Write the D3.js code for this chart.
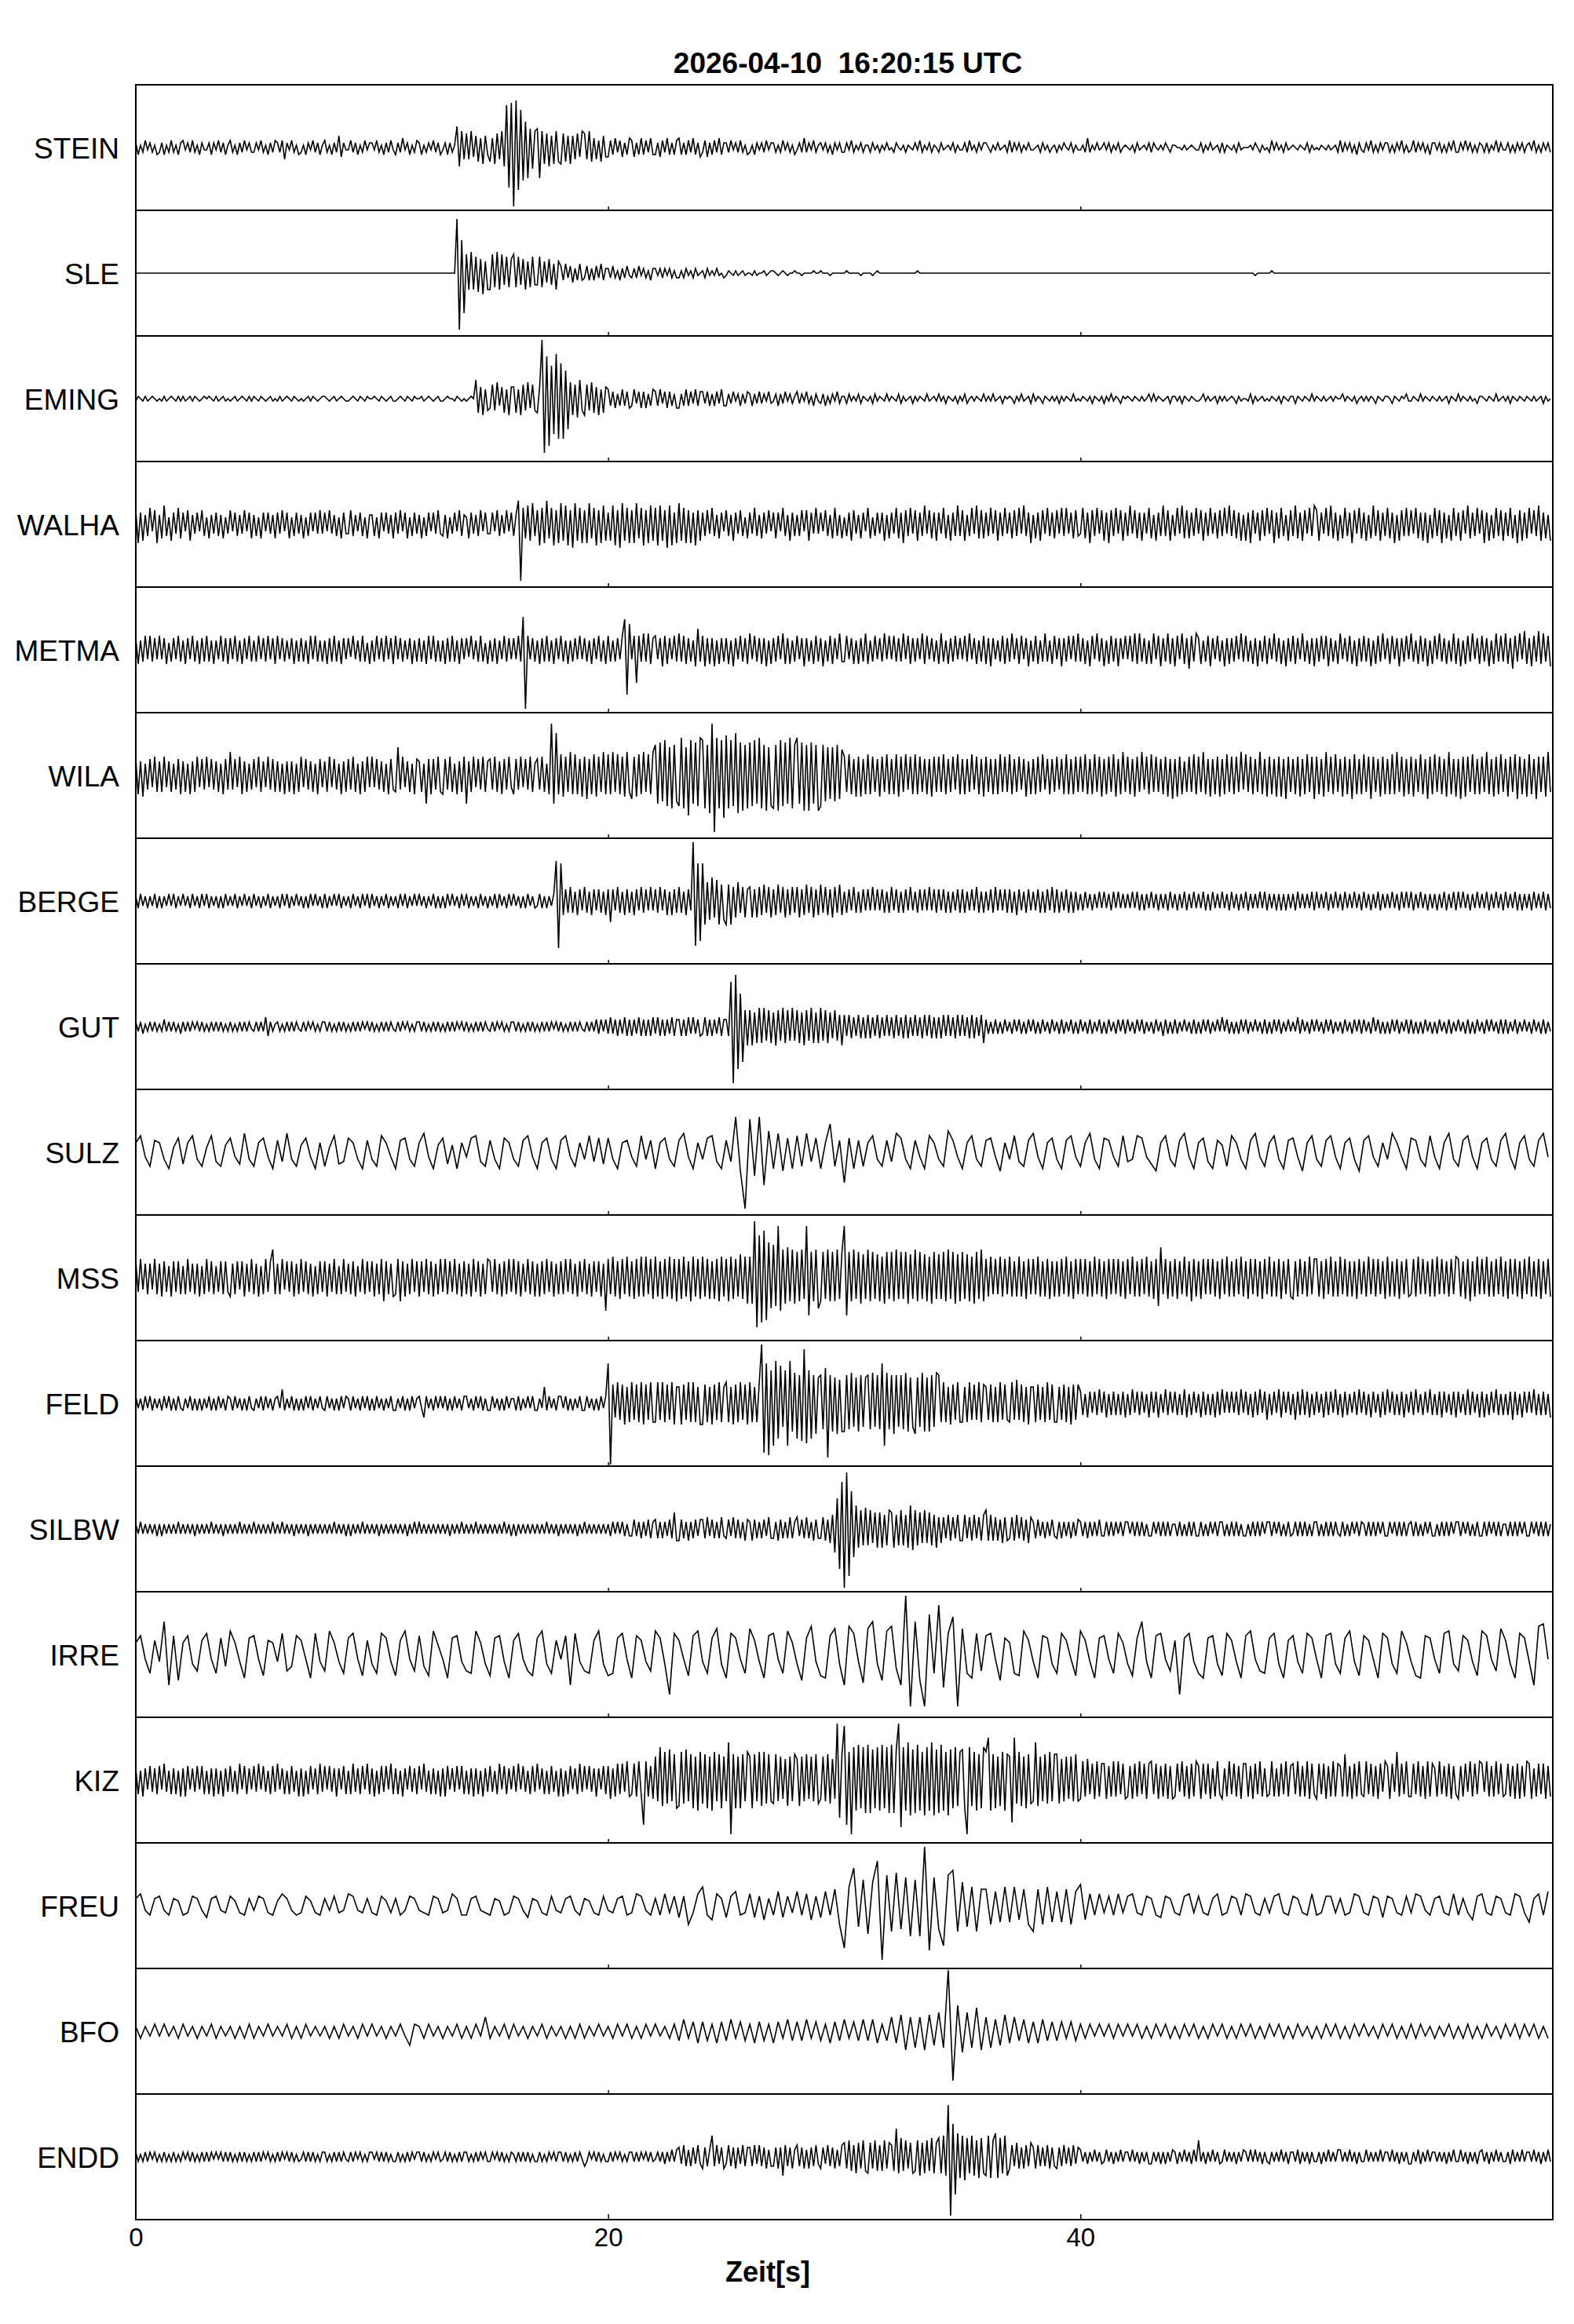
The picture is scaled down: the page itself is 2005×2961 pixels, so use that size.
<!DOCTYPE html>
<html>
<head>
<meta charset="utf-8">
<script src="https://cdn.jsdelivr.net/npm/d3@7"></script>
<style>
  body { margin: 0; background: #fff; }
  text { font-family: "Liberation Sans", Arial, sans-serif; fill: #000; }
</style>
</head>
<body>
<svg id="chart" width="2005" height="2961"></svg>
<script>
// seismogram section, 17 stations, 0..60 s
const title = "2026-04-10  16:20:15 UTC";
const xLabel = "Zeit[s]";
const xTicks = [0, 20, 40];

const stations = ["STEIN", "SLE", "EMING", "WALHA", "METMA", "WILA", "BERGE", "GUT",
    "SULZ", "MSS", "FELD", "SILBW", "IRRE", "KIZ", "FREU", "BFO", "ENDD"];

// seconds between samples of each trace
const steps = [0.1, 0.1, 0.1, 0.1, 0.1, 0.1, 0.1, 0.1, 0.2, 0.1, 0.1, 0.1, 0.2, 0.1, 0.2, 0.2, 0.1];

// samples, one char each: 0 = zero, A..Z = +1..+26, a..z = -1..-26
// (one space-separated group = one second)
const waves = [
    // STEIN
    "BcAbCaBbAc bBcAbCbAcB CaBbCbAcBa aBcBaCbBcA CbAcBbCaBb bBaCbAcBbC BbCeBaCbAc bAcBaCbBcA CbAcBbEdBa aCbBcAbCaB " +
    "BaCbAcBbCa cBbDaBcAbC BcAbBaCbBc aBcBbAIhGe FeGdEfDgEc fDgFeGhRqS yTrPnKmHiG HmGgFhEgGf gFfEgEeFdG FeGfDeCfEd " +
    "dCcDbCdBcD CdBcDcCbDc cBdCbDcBcC DcBcCbDcBd bCdBcCbDcB BbCaBbCbAc bAcBaBbCaB BbAbCaBbAc aBbDbBaCbA BaBbAcBaBb " +
    "bBaCbAaBbA AbBaAbAaBa 0bB0aAbA0a BaCbAaBbA0 bBa0AaBbAa aBbCaAbBaB B0bAaBa0Ab CbBaBbAaBa a0AbBaAb0A bAaB0aBbAa " +
    "aAbDbAaBa0 BaBbAaBb0A 0aAbBa0AaB bB0aAaB0bA A00aAa0A0a aBbAaBa0Ab BbA0aAbBa0 00AaB0bAa0 bCaBaAbBa0 A0aA0aBbAa " +
    "0aA0aAa0Ab CbBaBbAcBa bBaCbAbBaB BbAbBaCbAb aCbBaBbAcB BaBbAbBaCb bBaCaBbAbB AbBbAaCbBa aBbAbBaBbA BaCbAbBaBb",
    // SLE
    "0000000000 0000000000 0000000000 0000000000 0000000000 0000000000 0000000000 0000000000 0000000000 0000000000 " +
    "0000000000 0000000000 0000000000 000000WxNq HgIgGhFiEg gHfIgHeGfF HfGeFgEfGe eGfEdFeDgE CcDbCdBcDc bCcBcCbDcB " +
    "BbCbAcBbCa bBbCaBbAcB BaBbBaBbAb bAbBaAbBa0 AbBaAaBa0b aA0aAa0Aa0 0aAa00Aa0A A0a0A0a00A 00a0000A00 A000a00000 " +
    "0A00000a00 00a0A00000 0000000000 0A00000000 0000000000 0000000000 0000000000 0000000000 0000000000 0000000000 " +
    "0000000000 0000000000 0000000000 0000000000 0000000000 0000000000 0000000000 0000a00000 0A00000000 0000000000 " +
    "0000000000 0000000000 0000000000 0000000000 0000000000 0000000000 0000000000 0000000000 0000000000 0000000000",
    // EMING
    "aA0aAa0A0a 0aAa0A0aAa Aa0AaA0a0A 0A0aAa0Aa0 a0Aa0A0aAa A0aA0a0Aa0 aAa0A0aA0a 0a0AaA0a0A A0a0Aa0A0a a0A0aA0aA0 " +
    "0A0aA0a0Aa a0A0aA0aA0 0Aa0A0a0Aa a0A00aA0a0 a0A0HfEgDe dFeGcEfDgE EfDgFeGdFe fEYwRtNoSq OqLmGgFhHe gFeGfEgDfE " +
    "DcCdBcDcCd cDbCdCdBcD CcDbCdCcBd dBcDcCbDcC CbCcBcCbDc cBbCaBcBbC BcBbCbBaCb aBcBbCaBbA CbBaCbAcBa bBcAbBaCbA " +
    "AbBaAaBbA0 aAbBaA0aBa A0aBbAa0Ab AaA0aBa0Aa BaAbA0aAbA aBb0AaA0aB aAaBa0AbA0 A0bAaBa0Ab BaA0bA0aAa AbAaA0aBa0 " +
    "aA0aAbA0aA bAaBaA0bA0 A0aA0aAa0B aBaA0a0AbA AaAbA0aA0a a0BaAa0AbA aAa0A0bAa0 0aBbAa0Aa0 aA0aAbA0aA AbA0aA0aBa " +
    "A0aAa0AaA0 0BaA0aAb0A aAaA0bA0aA A0bA0aA0Ba aA0aBaA0aA 0aAa0AbA0a BaA0aAa0bA A0aA0aBa0A aAbA0aA0aA 0aAa0AbAa0",
    // WALHA
    "FhEgDeGcFh DfHeCgEdGf EcFgDdEcFe CfDdEeDfCd FcEeDdFcEf DeCfEcEdDf EdFcEfCeEd DfCeEcEdFd EcFdDeCfEd dFeDcEeCfD " +
    "DeCfEcEdDf EdFcEfCeEd DfCeEcEdFd eDfCdEcFeD CfEdDeFcEd dEcFeDdFcE eDJxGfHgIe FiGhJfGiFh IgHiFjIgGh FhIfGiFhHg " +
    "EgHiFjIgGh FhIfGiFhHg GiHgFjHiEh IgGhFhEiFg EeFdGeDfEc FeDgEdFeCf EdGeDfEdFc EfEcGeDgEe DeFcFgEdGd EcFeDfGeDf " +
    "CeEgFdDfEc GfCeEdEgDf EdGfEhFeGd FgEeHdFfEg EdGfDgEeHe FgDeGdHfFf EeGdFgEeGd EfFeGdHeEh DfEgFdGeEf FdGeGdEfFe " +
    "dGfEhFeGdF gEhFeGdFgE eHdFfEgEdG fDgEeHeFgD eGdHfFfEeG dFgEeGdEfF eGdHeFfEgD gEhFdEgFeG dFhEfGeDgF eHfEgFdGeH " +
    "FgEdGeHfEg DfGeEhFdGf EgDfHeFgEe GfEhDgFeGe FdGfEgEhDf GeFhEfDgGe EgFdHfEeGd FhEgDfGeFg EeGfDhFgEf GdFeHgEfDg",
    // METMA
    "EfDeFdFeEd FdEfCeEdFe DfEdFeDfEe FeDfDdFeEf EdFeDfEdFe DeFdEeFdEf FdEeDdEfDe EeDfFdFeDe DfEeFeDfEd EcFdDeFeCf " +
    "DeFdEeFdEf FdEeDdEfDe EeDfFdFeDe DfEeFeDfEd EcFdDeFeCf DeEfDdFeEd EdFeNyFdEe DfEeFeDfEd FeDfDeEdFd EeDfEdFeDf " +
    "FeDeEdFMsK dFnFeGeGfE FdEgFfEdFe GeFfEeDgIe FgEfEgDfEe EfDgEdFeEf GdFeEfEgDf EeFdGfEfDe FdEgEeDfFe EgDeFfEdGe " +
    "eFdEfDfEeG fDeFdEeGdF dFeEeGdFfE eEdGfFdEeD fGeDfEeFdE dFeGdEfDeF fEgEdDeFfE eGdEfFdEgD eFfDeGeDfF dEgEeFdFeG " +
    "eEfDgFdGeE gDfFeEgEdF dFeGfGeEfD fGdFgEeGfE gFdGfEhFeG EfDeFgEdFe DgEfEeFdGe FeDfEgDeFf EdGeEfDgEe FfEdGeDfEg " +
    "EeFdFgEeDf GdEeFfDgEe FeEgDfFeGd EfFdEgEeFd GeDfFeEgDf FdGeEfDeGf EgDfFeGdEf FeEgDfGeFe GfEhFeGdHf EgFeHfGeFg",
    // WILA
    "GhFiEfGeHg FgHeFgEfGh FgEhFgHeGf HeGfFgEhGf JfGeHhFgEf GeHgFeHfGg FgEhFgFhEg HeGfFgEhGe FgHeGfEhFg GfHgEhFgHe " +
    "HeGfFgEhGf gLfHeFgEhG FgElGhGfHg hGfHgEhFgH lFgHeGfHgF GfHgFhGfHe hGfHeGfHgE GfHgEhVlRh IiHgJhIhGi HjGhIiHgJh " +
    "IhJgIhHiJg jHiIhJgIhJ MlNkOmLnMk mPnLqOlNmP OnMpVxPnOr QnOmRpNoMn NmOlPnMoLm nMoOmNlPnM PlNoMoNlMo mMkLjLkMjK " +
    "HgIhGiHiGh IhHgGiHgIh GhIiHgIfHh IhHgGhGiHg HgIhGgHfIh GhGgIfHhGi HgGhGhIgHg IhGgHfGiFh GhHgIfGhGg HfGhIhGhHg " +
    "HgIhGhIgHi GhHgIiGhJg HhGiHgJfHh IgHgGhHiGj GiHhFgHgIh HgJhGiGhHi GhIgHhHgJf IgHhGgJhGi HhGiHiGjHg GhHiGhIgHj " +
    "HhGiJgHhIg GiHhGjIhGh IgHjHgGiHh GhIhJgHiGh HiGgIhGjHh IgHhGiJhGi GjHiHgIhGh HgJhGiHhIg GiHgIjHhGi IhGjHgHiJg",
    // BERGE
    "BcCbBcBbCc BcBbCbCcBb CbBcCbBcCb CcBbBcBcCb BbCcBbCbBc CbBcBbCcBb BcCbCcBbCb BcBcCbCbBc CcBbCbCcBb BcCbBcCbCc " +
    "CbBcBbCcBb BcCbCcBbCb CbBcBbCcBc BcCbCbBcCb CcBbBcCbBc BbCcCbBcCb CbBcBcCbBc bCcBcBbCQt PfEeFeDfEd FeDfEdEeDf " +
    "EiEdFeDfEe DfEdFeEdFd EeFdEfDfEe FeDfEdYsPq PjHhJgIjGh jGjFgHeFgE FgEgFfGeFg EfGeFgEfFe FgEfGeFgEf GeFfEgFeGf " +
    "DeEdFeDeEd EdFdEdEeDe FdEeDeEdFd DeEdEdFdEe EdEeDeDdEe EeDdEdFeDe DdEeFdEdEe EeDfEdDeEd DdEeDeEdFe EeDdEeDeDd " +
    "CdDcCdCcDc DcCdDcDcCc CcDcDdCdCc DcCdCcCdDc CdCcDdCcDc CcDdCdDcCc DcCdDcCdCc DdCcCcDcDd CcCdCdCdCc CdDcCcCcDd " +
    "DcCcDdCcDc CdDcCcDcCd DcCdCcDdCc CcDcCdDcDc DdCcDcCdCc CdCcDdCcDd DcDcCdCcDc CcDdCcDcCd DcCcDdCdCc CdDcCcDdCc",
    // GUT
    "BbBcAbBbBb AbCbBbBbAc BbBbBaBbBb AbBbBbBbAb BbAbBbBbBa bBbBbDdBbA BbAbBbBbBa bBbBaBbAbB BbBbAbBbBb AbBbBbBaBb " +
    "BbAbBbBbBa bBbBaBbAbB BbBbAbBbBb AbBbBbBaBb BbAbBbBbBa bBbBaBbAbB BbBbAbBbBb AbBbBbBaBb BbAbBbBbBa bBbBbCcCbC " +
    "cDcCdCcDdC dCcDdCdCdD cDdCdCcDdC CdCdDcDcCd cDdCdCcDdC CdSxVrNoGh GhFgHgHfGg FhGfHgGfHf GgFhGfHgFg HfGgFeGfEh " +
    "EdEeDdEeDe EeDdEeDdEd DeEdDeEeDd EdDeEdEeDe DeEdEdDeEd EdDeEeDdEg CcBcCcBcCb BcCbCcBcCb CcBcCbBcCb BcCcBbCcBc " +
    "CbBcCcBbCc BcCbBcCbCc CbBcCbCcBb BcCbBdCcBc CcBbCbBcCc BcCbCcBbCb DbCcBcBcCb CcBbCbBcCc BcCbCcBbCb BbDcCbBcCb " +
    "CbBcCbCcBb BcCbBcCbCc CbBcDbCcBc BcCbCcBbCc CcBcBcCbBc BcCbBcCcBb CbBcCcBcCb BcCbCbBcCc CcBbCcBbCb BcCbBcCcBb",
    // SULZ
    "DGbfE DcgBF eDGcf BGdfC FbeHc fDFbg EdHcf CFbgD fBGed FDcgE " +
    "cfGDb gEFcf DHbgC FeCgD bFGdf EcgFD cfEGb gDFcg EGbfD cGdFe " +
    "FcgDE bfGcE gDFcf EHbgD cFGdg EdOhx NjOnI gHhFg GfHdF gDLfE " +
    "mFgEf DGcfE dHFcg EbgGD cfIEb gDGcf EFbhD cGdfE HbgDF cgEGb " +
    "fDHcg FEbfG dcGFb ehDGc fEHbg DFdgE CfGDc gEHbf DGcgE FbhDG " +
    "cfEGb gDFch EGbfD cHDbg FEcfG bgDHc fEGbg DFcfE HbgDG cfEHb",
    // MSS
    "GfHeFgFeHg FhGfEhGfGg EgHfFgFhEg HfGgEfGgGf hFgGeGhFfH gFhEgHfGLg FgHeGfGhFg HfGgFhEgGf GhFfHgEgHf FgGhEfHgGf " +
    "GhFgHjGgFh gHjGhFgHfG hGfHgGhFgH fHgGfHgFhG gFhHfGhFgH GfHgFhGgHf HgGhFfHgGh FhGgHfGhFg GgHfHgFhGf HgFhGfGhFn " +
    "HgIhGiHgIh GiHhIhIgHi IhGiHhIiHj HiIhGjIhHi IhHiGiHjIh HjIiHhJiIk IkXuRsTrOm NlVnLkMjLk KjLiVpKjLm jKiLjKjLiK " +
    "VpKjLiKkJi LjKiJjIkKi KjLiKiKkJi LjKiJjIkKi JiKjLiKkJj KiJjIkKiLj HhIgHgIhHg IhGhIhGiHg HgIhGhHiGh GhHgIhGiHg " +
    "HgHhGhIgHh GiHgHgHhGi HgIhGhHgIh GiHlMgHiGh HiGgIhGjHh GiHgHgHhGi HgIhGhHgIh GiHgHhGiHg IhGhHiGgHh iGhHgGhIgH " +
    "HhGiHgIhGh IgHhGhGiHg GhIgHhHgGi IhGhHiGgHh gHhIgHgGhH hIgHgGhHgI HhGiHjGhIg HgIhGhHgIh GiHgHhGiHg IhGhHiGgHh",
    // FELD
    "CbBcCbCcBb BcCbCcBcCb cBbCcBcBcB bCcBcCbBcC BcCbBcBcCb cBbCcCbBcB CbFcBbCcBc BcCbCcBbCb cCbBcBcCbC BcCbBcCbCc " +
    "BcCbBcBbCc cBbCcBcCbB CbfCbBcCbC bCcBcCbBcC CbBcCbCcBc cCbBcBcCbB BcCcBbCbCc cBbGcCbBcC CbCcBcBbCc cCbBcBcCbC " +
    "QzHfIgHiGh IgHhIiHgIh hIgIhHgIiG GiHgIhIhGi iHhGiHgIhG IhGiHhIgHi IhGhIYuQvN rRoPjNrRlM oLpWqNoLmK LkOwLlKmJl " +
    "lLkMjKlLjK LkMjLkQrMk LmLjLkMlKj mKjMlKlLjM LhIhGiHgIh hGhIgHgIhH GgHhGhIgHg hIgJgHhGiG GhHgGhIgHh hGgHhGiHgH " +
    "EeDfEdEeFd EfDeEeDeEf DeFdEeEdDf EdEfDdFeEd EeDeFfDeEd DfEeDeDfEe FdEdEdEeFd EeDfEeFdEg DeEdFfEdEe DgEeFeEfDe " +
    "EdDfEeEdFe DfEeDdEeFd EeDfEdDfEe FdEeDeEfDd EeFdDeEdFe DeEfEdDeEf EdDeFeEdDf EfDeEdFeDe DeEgEeDfEd EdFeDeEeDf",
    // SILBW
    "BbCbBbBbBc BcBbBbBbCb BbBbBcBbBb BbCbBbBcBb BbBbCbBbBb CbBbBbBbCb BbCbBbBcBb BbBcBbBbBb BbBbCbBbBc BcBbBbCbBb " +
    "BbBcBbBbBb BbBbBcBbCb CbBbBbBbBb BbBcBbBbCb BbBbCbBbBb BbBbBbCbBc BcBbBbBbBb BbBbCbBbBc BbBbBbBcBb CbBbBbBbBb " +
    "BcCbCbCcBc cDcCdCcDdC DdCdCcDdGe eDdCeCdDcD DdEcDdCdEc dDcEdDdCeD CeDdCdDcEd dCeDdCdEdC EcDdEdCeDd dEeDfFjMqT " +
    "yXtPlJhHgI gHfGhGhFgH GhFgHgFhJi HgGfHfGgFh EfEdFeEdFe eFdEeFdEeF HeFeEeDfEe dEeFdEeDfE CdDcCdCcDc dCdCcCdCcD " +
    "CcCdCcCcDc cCcCcCbCcC CbCcCcCcBc cCbCcCcCcB BcCcBcCcCc cCcBcCbCcC CcBcCcCcBc cBcCcCcCbC CcCbCcBcCc bCcCcCcBcC " +
    "CcBcCcCcCb cCcBcCbCcC BcCcCcCbCc cCbCcCcCcB CcCcBcCbCc cBcCcCcCbC CcCbCcBcCc cCcCbCcCcB BcCcCcCbCc cCbCcCcCcB",
    // IRRE
    "EHbhF cNmHk EHdgF IbhGe JEcjG HbiFE cIgeH FbjIc gJEch GIbiF " +
    "dhIGc iFJbg HeiJD bjGHc ghJEd iGHcj FIbgi GJdhF bHmIc ghFJd " +
    "ihGIb jHFcg JGdqI FbiHJ chGKd jIGbh KFcjH IbhJE dkGLc ijHKd " +
    "mLIcl KNdkJ LfmYv NkvQh UnIPv KhjIg HIbkG EhiJF cjHGd hIFbi " +
    "JFcjG HbhIE diGNc jHIbg FqGIc hjGHd iIFcj HJbgh GIdjF HchIG " +
    "bjHId hGJci HFbjI GdhJE cijHG bhIJd gHFci JHbgK FdjIG cmLMb",
    // KIZ
    "EfDgEdFeEf FdGeDfEfDg EgFdEeFdFf DfEgEfDgEe FeDfGdFfEd FeGdFeDfFe GdEfDfFeDg EgDfFdEfGe FdFeEgEdFf DfGeEfFdGf " +
    "EgDfFeFdGf EfDgEdFeEf FdGeDfEfDg EgFdEeFdFf DfEgEfDgEe FeDfGdFfEd FeGdFeDfFe GdEfDfFeDg EgDfFdEfGe FdFeEgEdFf " +
    "FhEgGfGeHg fGgHfsHgFh JiNkLjMiKl kLjMiKlJmL jKlJmLiKlJ iPwKlJlKiL JlKiLkLjKi jKiJhIkJiK IkJiKhJiKj hJiKjIhXpK " +
    "WsLwNmOlNn OnMlNmOlNn OnMXtNmPoM nOmLoNmPoM nOmLoMlNkL MlwNkLmKlN LRmKlJkLmK JrRjLkJlKj iPkJiKjLiK KjIiJhJiKi " +
    "hHgIfGhHgG GhFgHgHfGh gFhGgHfGhG HfGhFgGhFh gGeHgFhGgH FhGfGhEgHf hEgHfGgFhG GgFhGfHgEg fHgEgGfHgF GfHgFgHhGf " +
    "hGfGhFgHgG FgKgFhGgHf gHfGgFhGeH FhGeLgGfHg gGfHgFhHgG EgHfFgGhFf hFgGeHgGfH GeHgFgHfGg fGgFhGhFgH GhEgGfGhFg",
    // FREU
    "CEbdC DbdCB dcDCb eCDbc DBcdC bDCcd BECbd cDBcd CbDcb EDbcC " +
    "cdDBc CdbDC bcdDC cbECd dCDbc dCBdc DCbeC BcdDb cCDbd CBcdD " +
    "bcCDd cEDbd CdEcD eDhcE HdfEC eDFdc EeDfC dFeDc FdEfD eFdGh " +
    "rHPiK lJSwM kNjLm KmYsL jqMOk JiHkG GhFgH gHfGh kGhHg FgGhF " +
    "IfEdE cDdEc DEcdD CdeDC cdDEc DcdCE dcDCd EDcdC cDEcd DCcdE " +
    "dcDDc CdcED cdDCe DCcdD cEDbd CDcdE dCcfD EcdDC cdEDc gCEdF",
    // BFO
    "BcBbC bCbBc CbBcB bCcBb BcBcC cBbCb BbCcB cCbBb BcBcC bBcCb " +
    "CbBcB bCbfC BcCbB cBbCc BcCbF cBbCc CbBcB bCcBb BcBcC cBbCb " +
    "BcCbC cBcCb CbBcC dEcDe DdCeD dEcDd CeDdC eDcEd DdEcD dCeDd " +
    "EcDdE dEeCd FeGhF gFhGf HgZuK iHgJh FgEfG eFdEe DeEdD dDcDd " +
    "CcCbC bCcCb CbCcB cCbCc BcCbC cBcCb CcBcC bCcBc CbCcB cCbBc " +
    "BcCbC cBcCb CbBcC bCcBc CcCbB cBbCc BcCcB cCbBc CbCcC bCcBc",
    // ENDD
    "BbAbBbBaBb AbBbAbBbAb BaBbBbAbBb BbBaBaBbBb BbAbBbBbAb BbBbBaBbAb BbBaBbBbAb aBbBbBbAbB BbAbBbBbBa bBbBaBbAbB " +
    "BaBbBbBbAb bBbAbBbBaB BbBbAbBaBb aBbBbAbBbB BbAbBbBaBb bBaBbBbAbB AbBbBbBbAb bBbAbBaBbB BbBbAbBbBa dbBaBbBbAb " +
    "bBbBaBbAbB BbBbBaBbBb aBbBcBbCbC DcEdCdDcEc eDdCIdEcDe cEdDeDcEdD DdEcEdDeCd dDeDhEdDeC EdDeCeDdEc eDcEdDeCdE " +
    "FeGfEgFeGf gFeGfEfGeF EfLgHfGeFg fGhFgGfHgF HgIhVyNpJi IjHgIhGiHg hIiGJiHgIh eEdFeDeEdF DeEdDdEeDd eDdEcDdEcD " +
    "CbBcBbCbBc bCbBcBbCbB BbCbBcBbBc cBbBcBcBbC BcBbCbBcCb GbBcBbCbBc bCbBbBcBbC BbCbCbBcBb cBbBbCbBcB BbCcBbBcBb " +
    "bBcBbCbBbC CbBbCbBcBb bCbBbBbCbB BbCbBcBbBc cBbCcBbCbB BbBbBcBbCb bCbBcBbBcB CbBcBbCbBb bBcCbBbCbB BbCbBcBbCb"
];

const decode = (s) => Array.from(s.replace(/\s/g, "")).map((c) => {
    if (c === "0") return 0;
    if (c >= "a") return -(c.charCodeAt(0) - 96);
    return c.charCodeAt(0) - 64;
});

const plotLeft = 173, plotRight = 1978, plotTop = 108, rowH = 160;
const plotBottom = plotTop + rowH * stations.length;

const svg = d3.select("#chart");
svg.append("rect").attr("width", 2005).attr("height", 2961).attr("fill", "#fff");

const x = d3.scaleLinear().domain([0, 60]).range([plotLeft, plotRight]);
const y = d3.scaleLinear().domain([-26, 26]).range([rowH / 2 + 78, rowH / 2 - 78]);

svg.append("defs").append("clipPath").attr("id", "rowclip")
    .append("rect").attr("x", plotLeft).attr("y", 1).attr("width", plotRight - plotLeft).attr("height", rowH - 2);

const bad = [];
stations.forEach((name, i) => {
    const g = svg.append("g").attr("transform", `translate(0,${plotTop + i * rowH})`);
    const vals = decode(waves[i]);
    const step = steps[i];
    if (Math.round(vals.length * step) !== 60) bad.push(name + ":" + vals.length);

    const line = d3.line()
        .x((d, k) => x(k * step))
        .y((d) => y(d));

    g.append("path")
        .datum(vals)
        .attr("d", line)
        .attr("clip-path", "url(#rowclip)")
        .attr("fill", "none")
        .attr("stroke", "#000")
        .attr("stroke-width", 1.6);

    g.append("text")
        .attr("x", 152)
        .attr("y", rowH / 2 + 13.5)
        .attr("text-anchor", "end")
        .style("font-size", "37px")
        .text(name);

    // small ticks on each row's lower edge
    g.append("g")
        .attr("transform", `translate(0,${rowH})`)
        .call(d3.axisTop(x).tickValues([20, 40]).tickSizeInner(i === stations.length - 1 ? 7 : 5).tickSizeOuter(0).tickFormat(""))
        .call((a) => a.select(".domain").remove())
        .call((a) => a.selectAll("line").attr("stroke", "#000").attr("stroke-width", 1.5));

    if (i > 0) {
        svg.append("line")
            .attr("x1", plotLeft).attr("x2", plotRight)
            .attr("y1", plotTop + i * rowH).attr("y2", plotTop + i * rowH)
            .attr("stroke", "#000").attr("stroke-width", 2);
    }
});

svg.append("rect")
    .attr("x", plotLeft).attr("y", plotTop)
    .attr("width", plotRight - plotLeft).attr("height", plotBottom - plotTop)
    .attr("fill", "none").attr("stroke", "#000").attr("stroke-width", 2);

// time axis labels
const ax = svg.append("g")
    .attr("transform", `translate(0,${plotBottom})`)
    .call(d3.axisBottom(x).tickValues(xTicks).tickSize(0).tickPadding(11).tickFormat(d3.format("d")));
ax.select(".domain").remove();
ax.selectAll("text")
    .style("font-size", "33px")
    .style("font-family", '"Liberation Sans", Arial, sans-serif');

svg.append("text")
    .attr("x", 978).attr("y", 2907)
    .attr("text-anchor", "middle")
    .style("font-size", "36px").style("font-weight", "bold")
    .text(xLabel);

svg.append("text")
    .attr("x", 1080).attr("y", 93)
    .attr("text-anchor", "middle")
    .style("font-size", "37px").style("font-weight", "bold")
    .style("white-space", "pre")
    .text(title);

if (bad.length) throw new Error("sample count: " + bad.join(", "));
</script>
</body>
</html>
